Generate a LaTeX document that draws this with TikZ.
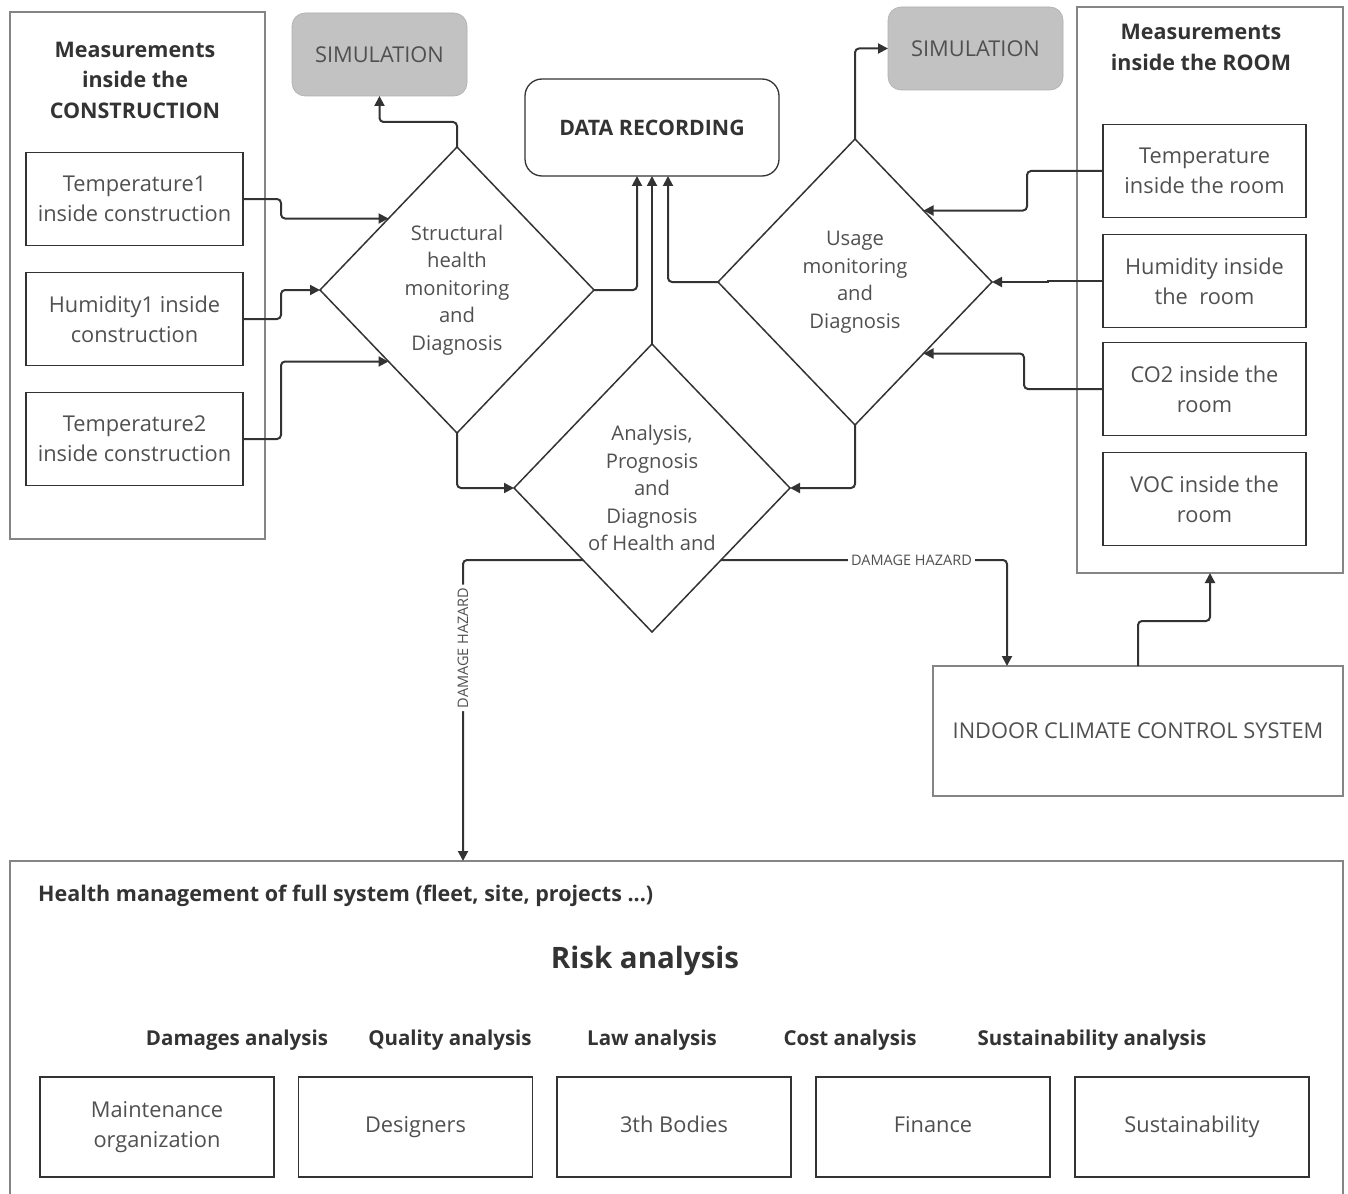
\documentclass[tikz,border=0pt]{standalone}
\usepackage{fontspec}
\setmainfont{Open Sans}
\usetikzlibrary{shapes.geometric,arrows.meta}

\definecolor{txt}{HTML}{505050}
\definecolor{txtb}{HTML}{333333}
\definecolor{ln}{HTML}{333333}
\definecolor{frame}{HTML}{858585}
\definecolor{simfill}{HTML}{C2C2C2}

\tikzset{
  base/.style={text=txt, align=center, inner sep=0pt, outer sep=0pt,
    font=\fontsize{21.8pt}{30pt}\selectfont},
  group/.style={draw=frame, line width=1.8pt, inner sep=0pt, outer sep=0pt},
  title/.style={text=txtb, align=center, font=\fontsize{21.5pt}{30.5pt}\selectfont\bfseries},
  sensor/.style={base, draw=ln, line width=1.8pt, minimum height=93pt},
  csens/.style={sensor, minimum width=217pt},
  rsens/.style={sensor, minimum width=203pt},
  simbox/.style={base, fill=simfill, draw=simfill!90!black, line width=0.6pt,
    rounded corners=13pt, minimum width=175pt, minimum height=83pt},
  recbox/.style={base, draw=ln, line width=1.3pt, rounded corners=17pt,
    minimum width=254pt, minimum height=97pt, text=txtb,
    font=\fontsize{21.3pt}{30pt}\selectfont\bfseries},
  dia/.style={diamond, draw=ln, line width=1.5pt, inner sep=0pt, outer sep=0pt,
    align=center, text=txt, font=\fontsize{20.2pt}{27.5pt}\selectfont},
  outbox/.style={base, draw=ln, line width=1.6pt, minimum width=234pt, minimum height=100pt},
  subhead/.style={text=txtb, inner sep=0pt, font=\fontsize{20.5pt}{24pt}\selectfont\bfseries},
  conn/.style={draw=ln, line width=2pt, rounded corners=4pt,
    -{Triangle[length=10pt,width=10pt]}},
  hazard/.style={text=txt, fill=white, inner sep=3pt, font=\fontsize{14.5pt}{16pt}\selectfont}
}

\begin{document}
\begin{tikzpicture}[x=1pt,y=-1pt]
\useasboundingbox (0,0) rectangle (1348,1193);

% group frames
\node[group, minimum width=255pt, minimum height=527pt] (cgrp) at (137.5,275.5) {};
\node[group, minimum width=266pt, minimum height=566pt] (rgrp) at (1210,290) {};
\node[group, minimum width=1333pt, minimum height=340pt] (hms) at (676.5,1031) {};

% group titles
\node[title] (ctitle) at (135,80) {Measurements\\inside the\\CONSTRUCTION};
\node[title] (rtitle) at (1201,47.5) {Measurements\\inside the ROOM};

% sensors inside the construction
\node[csens] (t1) at (134.5,199) {Temperature1\\inside construction};
\node[csens] (h1) at (134.5,319) {Humidity1 inside\\construction};
\node[csens] (t2) at (134.5,439) {Temperature2\\inside construction};

% sensors inside the room
\node[rsens] (tr) at (1204.5,171) {Temperature\\inside the room};
\node[rsens] (hr) at (1204.5,281) {Humidity inside\\the\ \ room};
\node[rsens] (co) at (1204.5,389) {CO2 inside the\\room};
\node[rsens] (voc) at (1204.5,499) {VOC inside the\\room};

% simulation and recording
\node[simbox] (sim1) at (379.5,54.5) {SIMULATION};
\node[simbox] (sim2) at (975.5,48.5) {SIMULATION};
\node[recbox] (dr) at (652,127.5) {DATA RECORDING};

% decision diamonds
\node[dia, minimum width=274pt, minimum height=286pt] (shm) at (457,290)
  {Structural\\health\\monitoring\\and\\Diagnosis};
\node[dia, minimum width=274pt, minimum height=286pt] (usd) at (855,282)
  {Usage\\monitoring\\and\\Diagnosis};
\node[dia, minimum width=276pt, minimum height=288pt] (apd) at (652,488)
  {Analysis,\\Prognosis\\and\\Diagnosis\\of Health and};

% indoor climate control
\node[base, draw=frame, line width=1.8pt, minimum width=410pt, minimum height=130pt]
  (icc) at (1138,731) {INDOOR CLIMATE CONTROL SYSTEM};

% health management panel
\node[subhead, anchor=west, font=\fontsize{21.5pt}{24pt}\selectfont\bfseries] (hmtitle) at (38,896)
  {Health management of full system (fleet, site, projects ...)};
\node[text=txtb, inner sep=0pt, font=\fontsize{29.5pt}{36pt}\selectfont\bfseries]
  (risk) at (645,961) {Risk analysis};
\node[subhead] (l1) at (237,1040) {Damages analysis};
\node[subhead] (l2) at (450,1040) {Quality analysis};
\node[subhead] (l3) at (652,1040) {Law analysis};
\node[subhead] (l4) at (850,1040) {Cost analysis};
\node[subhead] (l5) at (1092,1040) {Sustainability analysis};
\node[outbox] (b1) at (157,1127) {Maintenance\\organization};
\node[outbox] (b2) at (415.5,1127) {Designers};
\node[outbox] (b3) at (674,1127) {3th Bodies\vphantom{g}};
\node[outbox] (b4) at (933,1127) {Finance\vphantom{g}};
\node[outbox] (b5) at (1192,1127) {Sustainability};

% construction sensors to structural monitoring
\draw[conn] (t1.east) -- ++(38,0) |- (shm.north west);
\draw[conn] (h1.east) -- ++(38,0) |- (shm.west);
\draw[conn] (t2.east) -- ++(38,0) |- (shm.south west);

% room sensors to usage monitoring
\draw[conn] (tr.west) -- ++(-76,0) |- (usd.north east);
\draw[conn, rounded corners=0pt] (hr.west) -- ++(-55,0) |- (usd.east);
\draw[conn] (co.west) -- ++(-79,0) |- (usd.south east);

% to simulation
\draw[conn] (shm.north) -- ++(0,-25) -| (sim1.south);
\draw[conn] (usd.north) |- (sim2.west);

% to data recording
\draw[conn] (shm.east) -| ([xshift=-15pt]dr.south);
\draw[conn] (apd.north) -- (apd.north |- dr.south);
\draw[conn] (usd.west) -| ([xshift=16pt]dr.south);

% into analysis
\draw[conn] (shm.south) |- (apd.west);
\draw[conn] (usd.south) |- (apd.east);

% damage hazard outputs
\draw[conn] (apd.south west) -| ([xshift=-213.5pt]hms.north)
  node[hazard, rotate=90, pos=0.646] (dh1) {DAMAGE HAZARD};
\draw[conn] (apd.south east) -| ([xshift=-131pt]icc.north)
  node[hazard, pos=0.333] (dh2) {DAMAGE HAZARD};

% climate control back to the room
\draw[conn] (icc.north) -- ++(0,-45) -| (rgrp.south);
\end{tikzpicture}
\end{document}
